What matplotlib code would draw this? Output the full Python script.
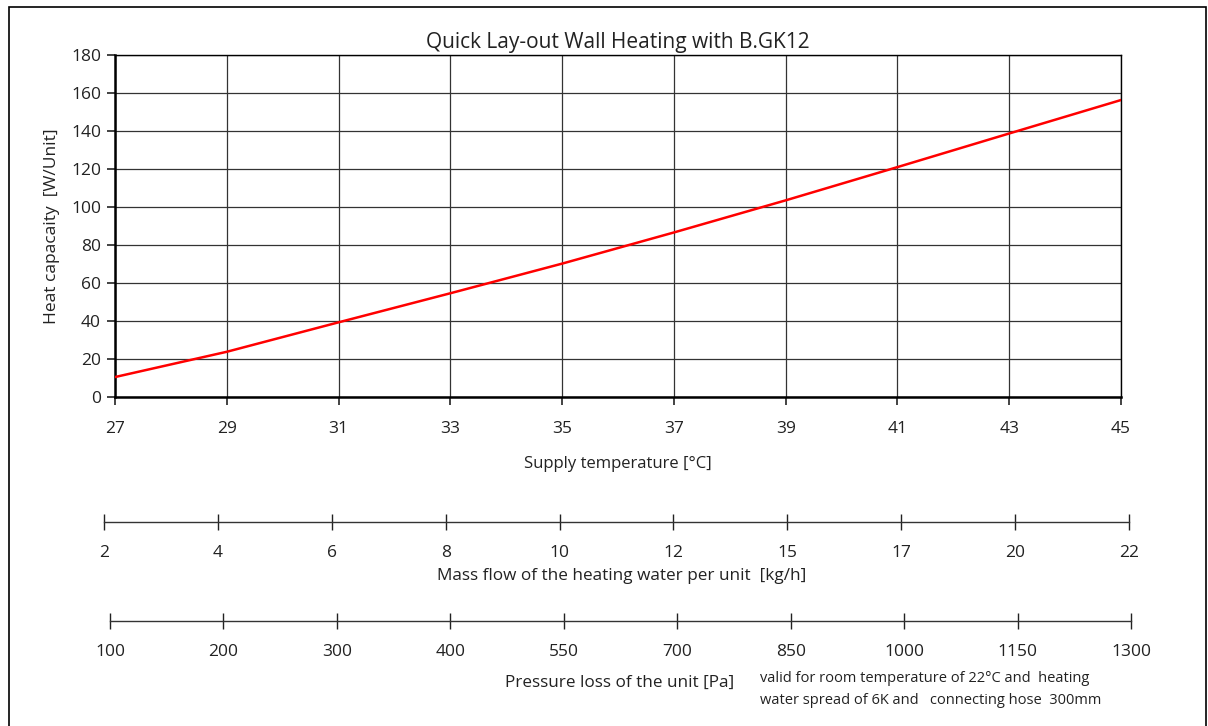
import matplotlib
matplotlib.use("Agg")
import matplotlib.pyplot as plt
from matplotlib.patches import Rectangle

plt.rcParams['font.family'] = ['Open Sans', 'DejaVu Sans']

# Data
supply_temp = [27, 29, 31, 33, 35, 37, 39, 41, 43, 45]
heat_capacity = [10.5, 23.8, 39.3, 54.6, 70.2, 86.6, 103.5, 121.0, 138.7, 156.3]
y_ticks = [0, 20, 40, 60, 80, 100, 120, 140, 160, 180]
mass_flow_labels = ['2', '4', '6', '8', '10', '12', '15', '17', '20', '22']
pressure_labels = ['100', '200', '300', '400', '550', '700', '850', '1000', '1150', '1300']

W, H = 1208, 726
fig = plt.figure(figsize=(W / 100, H / 100), dpi=100)

def fx(px):
    return px / W

def fy(py):
    return 1 - py / H

# Outer frame
fig.patches.append(Rectangle((fx(9), fy(740)), fx(1206) - fx(9), fy(7) - fy(740),
                             transform=fig.transFigure, fill=False,
                             edgecolor='black', linewidth=1.2))

# Main axes
ax = fig.add_axes([fx(115), fy(397), fx(1121) - fx(115), fy(55) - fy(397)])
ax.plot(supply_temp, heat_capacity, color='#ff0000', linewidth=1.8, zorder=3)
ax.set_xlim(27, 45)
ax.set_ylim(0, 180)
ax.set_xticks(supply_temp)
ax.set_yticks(y_ticks)
ax.grid(True, color='#333333', linewidth=0.9)
for s in ['left', 'bottom']:
    ax.spines[s].set_linewidth(1.8)
for s in ['right', 'top']:
    ax.spines[s].set_linewidth(1.0)
ax.tick_params(axis='both', labelsize=12.5, colors='#222222', length=6, width=1.2)
ax.tick_params(axis='x', pad=11)
ax.tick_params(axis='y', pad=4)
ax.set_title('Quick Lay-out Wall Heating with B.GK12', fontsize=15, pad=5, color='#222222')
ax.set_xlabel('Supply temperature [°C]', fontsize=12, labelpad=14, color='#222222')
ax.set_ylabel('Heat capacaity  [W/Unit]', fontsize=12.5, labelpad=8, color='#222222')

# Secondary scales
def scale_axis(left_px, right_px, y_px, labels, title, title_y_px, title_x_px):
    a = fig.add_axes([fx(left_px), fy(y_px), fx(right_px) - fx(left_px), 0.0001])
    a.set_xlim(0, len(labels) - 1)
    a.set_xticks(range(len(labels)))
    a.set_xticklabels(labels)
    a.set_yticks([])
    for s in ['left', 'right', 'top']:
        a.spines[s].set_visible(False)
    a.spines['bottom'].set_linewidth(1.0)
    a.spines['bottom'].set_color('#333333')
    a.tick_params(axis='x', direction='inout', length=11, width=1.0,
                  labelsize=12.5, colors='#222222', pad=11)
    a.patch.set_visible(False)
    fig.text(fx(title_x_px), fy(title_y_px), title, fontsize=12.3, color='#222222',
             ha='center', va='center')
    return a

scale_axis(104, 1129, 522, mass_flow_labels,
           'Mass flow of the heating water per unit  [kg/h]', 576, 622)
scale_axis(110, 1131, 621, pressure_labels,
           'Pressure loss of the unit [Pa]', 683, 620)

fig.text(fx(760), fy(679), 'valid for room temperature of 22°C and  heating',
         fontsize=10.5, color='#222222', ha='left', va='center')
fig.text(fx(760), fy(701), 'water spread of 6K and   connecting hose  300mm',
         fontsize=10.5, color='#222222', ha='left', va='center')

fig.savefig('out.png', dpi=100)
